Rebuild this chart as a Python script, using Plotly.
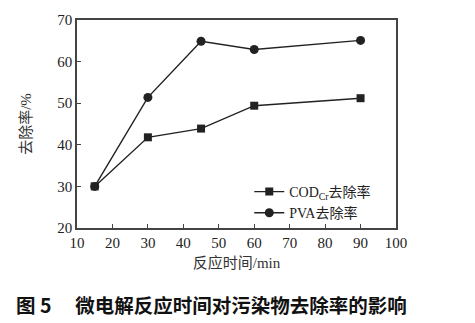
import plotly.graph_objects as go

# reaction time (min) and removal rates (%)
time_min = [15, 30, 45, 60, 90]
cod_removal = [30, 41.8, 43.9, 49.4, 51.2]
pva_removal = [30, 51.4, 64.9, 62.9, 65.1]

x_ticks = [10, 20, 30, 40, 50, 60, 70, 80, 90, 100]
y_ticks = [20, 30, 40, 50, 60, 70]

serif = "Liberation Serif, Times New Roman, Noto Sans CJK SC, serif"
ink = "#222222"

fig = go.Figure()
fig.add_trace(go.Scatter(
    x=time_min, y=cod_removal, mode="lines+markers",
    name="COD<sub>Cr</sub>去除率",
    line=dict(color=ink, width=1.4),
    marker=dict(symbol="square", size=8, color=ink),
))
fig.add_trace(go.Scatter(
    x=time_min, y=pva_removal, mode="lines+markers",
    name="PVA去除率",
    line=dict(color=ink, width=1.4),
    marker=dict(symbol="circle", size=9, color=ink),
))

axis_common = dict(
    showgrid=False, zeroline=False, showline=True, linecolor="#444444",
    linewidth=1.5, ticks="inside", ticklen=4, tickcolor="#444444",
    tickfont=dict(family=serif, size=15, color=ink), mirror=True,
)

fig.update_xaxes(
    range=[10, 100], tickvals=x_ticks,
    title=dict(text="反应时间/min", font=dict(family=serif, size=15, color="#333333"), standoff=8),
    **axis_common,
)
fig.update_yaxes(
    range=[20, 70], tickvals=y_ticks,
    title=dict(text="去除率/%", font=dict(family=serif, size=15, color="#333333"), standoff=22),
    **axis_common,
)

fig.add_annotation(
    text="<b>图 5</b>　 <b>微电解反应时间对污染物去除率的影响</b>",
    xref="paper", yref="paper", x=-0.197, y=-0.37, xanchor="left", yanchor="middle",
    showarrow=False, font=dict(family="Noto Sans CJK SC, sans-serif", size=19.5, color="#111111"),
)

fig.update_layout(
    width=475, height=323,
    margin=dict(l=77, r=79, t=17, b=95),
    paper_bgcolor="white", plot_bgcolor="white",
    showlegend=True,
    legend=dict(
        x=0.54, y=0.25, xanchor="left", yanchor="top",
        bgcolor="rgba(0,0,0,0)", font=dict(family=serif, size=14, color=ink),
        itemwidth=30, tracegroupgap=0,
    ),
)

fig.write_html("out.html")
